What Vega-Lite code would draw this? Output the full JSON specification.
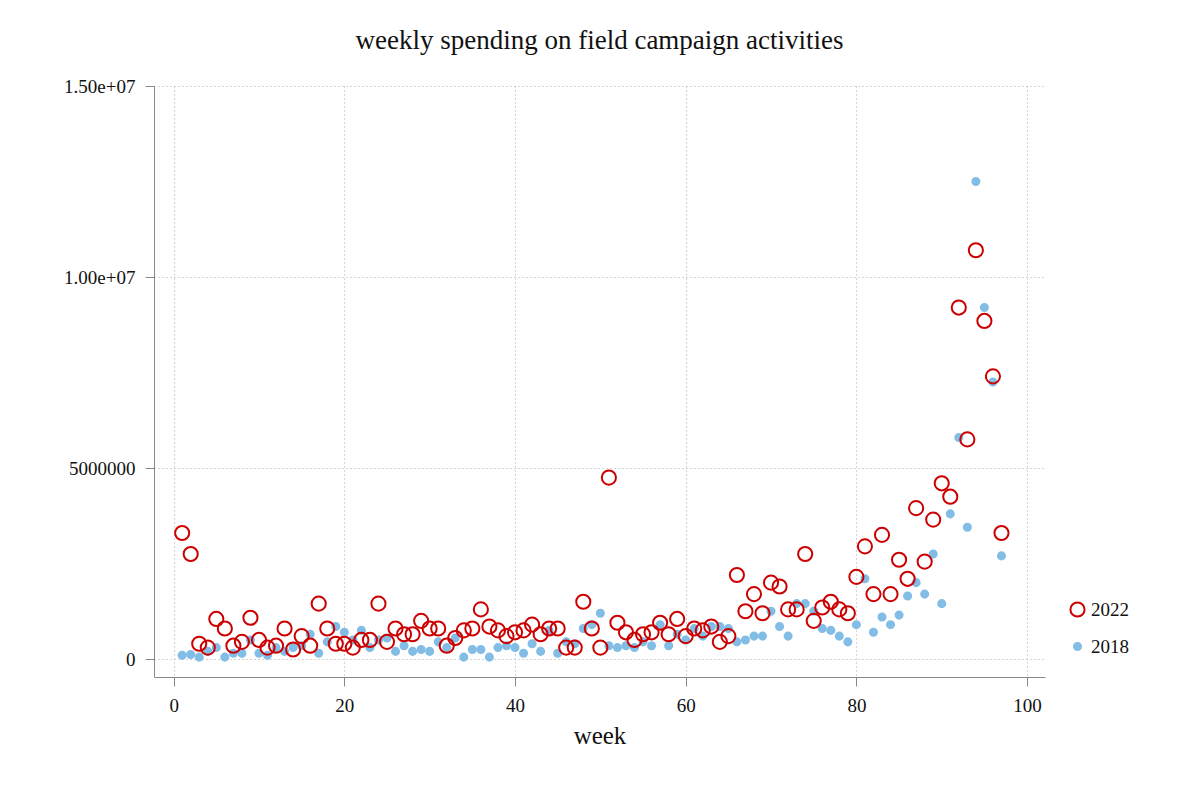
{
  "$schema": "https://vega.github.io/schema/vega-lite/v6.json",
  "autosize": "none",
  "width": 891,
  "height": 591,
  "padding": {"left": 154, "top": 86, "right": 155, "bottom": 123},
  "background": "white",
  "title": {"text": "weekly spending on field campaign activities", "font": "Liberation Serif", "fontSize": 27, "fontWeight": "normal", "color": "#111", "offset": 22},
  "data": {"values": [
    {"week":1,"y":0.1,"s":"2018"},{"week":2,"y":0.12,"s":"2018"},{"week":3,"y":0.05,"s":"2018"},{"week":4,"y":0.2,"s":"2018"},{"week":5,"y":0.3,"s":"2018"},{"week":6,"y":0.05,"s":"2018"},{"week":7,"y":0.15,"s":"2018"},{"week":8,"y":0.15,"s":"2018"},{"week":9,"y":0.5,"s":"2018"},{"week":10,"y":0.15,"s":"2018"},
    {"week":11,"y":0.1,"s":"2018"},{"week":12,"y":0.3,"s":"2018"},{"week":13,"y":0.2,"s":"2018"},{"week":14,"y":0.3,"s":"2018"},{"week":15,"y":0.35,"s":"2018"},{"week":16,"y":0.65,"s":"2018"},{"week":17,"y":0.15,"s":"2018"},{"week":18,"y":0.45,"s":"2018"},{"week":19,"y":0.85,"s":"2018"},{"week":20,"y":0.7,"s":"2018"},
    {"week":21,"y":0.5,"s":"2018"},{"week":22,"y":0.75,"s":"2018"},{"week":23,"y":0.3,"s":"2018"},{"week":24,"y":0.5,"s":"2018"},{"week":25,"y":0.55,"s":"2018"},{"week":26,"y":0.2,"s":"2018"},{"week":27,"y":0.35,"s":"2018"},{"week":28,"y":0.2,"s":"2018"},{"week":29,"y":0.25,"s":"2018"},{"week":30,"y":0.2,"s":"2018"},
    {"week":31,"y":0.45,"s":"2018"},{"week":32,"y":0.3,"s":"2018"},{"week":33,"y":0.55,"s":"2018"},{"week":34,"y":0.05,"s":"2018"},{"week":35,"y":0.25,"s":"2018"},{"week":36,"y":0.25,"s":"2018"},{"week":37,"y":0.05,"s":"2018"},{"week":38,"y":0.3,"s":"2018"},{"week":39,"y":0.35,"s":"2018"},{"week":40,"y":0.3,"s":"2018"},
    {"week":41,"y":0.15,"s":"2018"},{"week":42,"y":0.4,"s":"2018"},{"week":43,"y":0.2,"s":"2018"},{"week":44,"y":0.75,"s":"2018"},{"week":45,"y":0.15,"s":"2018"},{"week":46,"y":0.45,"s":"2018"},{"week":47,"y":0.4,"s":"2018"},{"week":48,"y":0.8,"s":"2018"},{"week":49,"y":0.9,"s":"2018"},{"week":50,"y":1.2,"s":"2018"},
    {"week":51,"y":0.35,"s":"2018"},{"week":52,"y":0.3,"s":"2018"},{"week":53,"y":0.35,"s":"2018"},{"week":54,"y":0.3,"s":"2018"},{"week":55,"y":0.45,"s":"2018"},{"week":56,"y":0.35,"s":"2018"},{"week":57,"y":0.9,"s":"2018"},{"week":58,"y":0.35,"s":"2018"},{"week":59,"y":0.65,"s":"2018"},{"week":60,"y":0.5,"s":"2018"},
    {"week":61,"y":0.8,"s":"2018"},{"week":62,"y":0.6,"s":"2018"},{"week":63,"y":0.85,"s":"2018"},{"week":64,"y":0.85,"s":"2018"},{"week":65,"y":0.8,"s":"2018"},{"week":66,"y":0.45,"s":"2018"},{"week":67,"y":0.5,"s":"2018"},{"week":68,"y":0.6,"s":"2018"},{"week":69,"y":0.6,"s":"2018"},{"week":70,"y":1.25,"s":"2018"},
    {"week":71,"y":0.85,"s":"2018"},{"week":72,"y":0.6,"s":"2018"},{"week":73,"y":1.45,"s":"2018"},{"week":74,"y":1.45,"s":"2018"},{"week":75,"y":1.25,"s":"2018"},{"week":76,"y":0.8,"s":"2018"},{"week":77,"y":0.75,"s":"2018"},{"week":78,"y":0.6,"s":"2018"},{"week":79,"y":0.45,"s":"2018"},{"week":80,"y":0.9,"s":"2018"},
    {"week":81,"y":2.1,"s":"2018"},{"week":82,"y":0.7,"s":"2018"},{"week":83,"y":1.1,"s":"2018"},{"week":84,"y":0.9,"s":"2018"},{"week":85,"y":1.15,"s":"2018"},{"week":86,"y":1.65,"s":"2018"},{"week":87,"y":2.0,"s":"2018"},{"week":88,"y":1.7,"s":"2018"},{"week":89,"y":2.75,"s":"2018"},{"week":90,"y":1.45,"s":"2018"},
    {"week":91,"y":3.8,"s":"2018"},{"week":92,"y":5.8,"s":"2018"},{"week":93,"y":3.45,"s":"2018"},{"week":94,"y":12.5,"s":"2018"},{"week":95,"y":9.2,"s":"2018"},{"week":96,"y":7.25,"s":"2018"},{"week":97,"y":2.7,"s":"2018"},
    {"week":1,"y":3.3,"s":"2022"},{"week":2,"y":2.75,"s":"2022"},{"week":3,"y":0.4,"s":"2022"},{"week":4,"y":0.3,"s":"2022"},{"week":5,"y":1.05,"s":"2022"},{"week":6,"y":0.8,"s":"2022"},{"week":7,"y":0.35,"s":"2022"},{"week":8,"y":0.45,"s":"2022"},{"week":9,"y":1.08,"s":"2022"},{"week":10,"y":0.5,"s":"2022"},
    {"week":11,"y":0.3,"s":"2022"},{"week":12,"y":0.35,"s":"2022"},{"week":13,"y":0.8,"s":"2022"},{"week":14,"y":0.25,"s":"2022"},{"week":15,"y":0.6,"s":"2022"},{"week":16,"y":0.35,"s":"2022"},{"week":17,"y":1.45,"s":"2022"},{"week":18,"y":0.8,"s":"2022"},{"week":19,"y":0.4,"s":"2022"},{"week":20,"y":0.4,"s":"2022"},
    {"week":21,"y":0.3,"s":"2022"},{"week":22,"y":0.5,"s":"2022"},{"week":23,"y":0.5,"s":"2022"},{"week":24,"y":1.45,"s":"2022"},{"week":25,"y":0.45,"s":"2022"},{"week":26,"y":0.8,"s":"2022"},{"week":27,"y":0.65,"s":"2022"},{"week":28,"y":0.65,"s":"2022"},{"week":29,"y":1.0,"s":"2022"},{"week":30,"y":0.8,"s":"2022"},
    {"week":31,"y":0.8,"s":"2022"},{"week":32,"y":0.35,"s":"2022"},{"week":33,"y":0.55,"s":"2022"},{"week":34,"y":0.75,"s":"2022"},{"week":35,"y":0.8,"s":"2022"},{"week":36,"y":1.3,"s":"2022"},{"week":37,"y":0.85,"s":"2022"},{"week":38,"y":0.75,"s":"2022"},{"week":39,"y":0.6,"s":"2022"},{"week":40,"y":0.7,"s":"2022"},
    {"week":41,"y":0.75,"s":"2022"},{"week":42,"y":0.9,"s":"2022"},{"week":43,"y":0.65,"s":"2022"},{"week":44,"y":0.8,"s":"2022"},{"week":45,"y":0.8,"s":"2022"},{"week":46,"y":0.3,"s":"2022"},{"week":47,"y":0.3,"s":"2022"},{"week":48,"y":1.5,"s":"2022"},{"week":49,"y":0.8,"s":"2022"},{"week":50,"y":0.3,"s":"2022"},
    {"week":51,"y":4.75,"s":"2022"},{"week":52,"y":0.95,"s":"2022"},{"week":53,"y":0.7,"s":"2022"},{"week":54,"y":0.5,"s":"2022"},{"week":55,"y":0.65,"s":"2022"},{"week":56,"y":0.7,"s":"2022"},{"week":57,"y":0.95,"s":"2022"},{"week":58,"y":0.65,"s":"2022"},{"week":59,"y":1.05,"s":"2022"},{"week":60,"y":0.6,"s":"2022"},
    {"week":61,"y":0.8,"s":"2022"},{"week":62,"y":0.75,"s":"2022"},{"week":63,"y":0.85,"s":"2022"},{"week":64,"y":0.45,"s":"2022"},{"week":65,"y":0.6,"s":"2022"},{"week":66,"y":2.2,"s":"2022"},{"week":67,"y":1.25,"s":"2022"},{"week":68,"y":1.7,"s":"2022"},{"week":69,"y":1.2,"s":"2022"},{"week":70,"y":2.0,"s":"2022"},
    {"week":71,"y":1.9,"s":"2022"},{"week":72,"y":1.3,"s":"2022"},{"week":73,"y":1.3,"s":"2022"},{"week":74,"y":2.75,"s":"2022"},{"week":75,"y":1.0,"s":"2022"},{"week":76,"y":1.35,"s":"2022"},{"week":77,"y":1.5,"s":"2022"},{"week":78,"y":1.3,"s":"2022"},{"week":79,"y":1.2,"s":"2022"},{"week":80,"y":2.15,"s":"2022"},
    {"week":81,"y":2.95,"s":"2022"},{"week":82,"y":1.7,"s":"2022"},{"week":83,"y":3.25,"s":"2022"},{"week":84,"y":1.7,"s":"2022"},{"week":85,"y":2.6,"s":"2022"},{"week":86,"y":2.1,"s":"2022"},{"week":87,"y":3.95,"s":"2022"},{"week":88,"y":2.55,"s":"2022"},{"week":89,"y":3.65,"s":"2022"},{"week":90,"y":4.6,"s":"2022"},
    {"week":91,"y":4.25,"s":"2022"},{"week":92,"y":9.2,"s":"2022"},{"week":93,"y":5.75,"s":"2022"},{"week":94,"y":10.7,"s":"2022"},{"week":95,"y":8.85,"s":"2022"},{"week":96,"y":7.4,"s":"2022"},{"week":97,"y":3.3,"s":"2022"}
  ]},
  "mark": {"type": "point", "strokeWidth": 2, "opacity": 1},
  "encoding": {
    "x": {"field": "week", "type": "quantitative", "title": "week",
      "scale": {"domain": [-2.3, 102.1], "nice": false, "zero": false},
      "axis": {"values": [0, 20, 40, 60, 80, 100], "gridDash": [1, 3], "gridColor": "#aaa", "domainColor": "#888", "tickColor": "#888", "tickSize": 9,
        "labelFont": "Liberation Serif", "labelFontSize": 19, "labelColor": "#111", "labelPadding": 10, "titleFont": "Liberation Serif", "titleFontSize": 25, "titleFontWeight": "normal", "titleColor": "#111", "titlePadding": 8}},
    "y": {"field": "y", "type": "quantitative", "title": null,
      "scale": {"domain": [-0.47, 15], "nice": false, "zero": false},
      "axis": {"values": [0, 5, 10, 15], "labelExpr": "datum.value == 0 ? '0' : datum.value == 5 ? '5000000' : datum.value == 10 ? '1.00e+07' : '1.50e+07'",
        "gridDash": [1, 3], "gridColor": "#aaa", "domainColor": "#888", "tickColor": "#888", "tickSize": 9,
        "labelFont": "Liberation Serif", "labelFontSize": 19, "labelColor": "#111", "labelPadding": 10}},
    "stroke": {"field": "s", "type": "nominal", "title": null, "scale": {"domain": ["2022", "2018"], "range": ["#cc0000", "#82bde6"]}},
    "fill": {"field": "s", "type": "nominal", "title": null, "scale": {"domain": ["2022", "2018"], "range": ["rgba(255,255,255,0)", "#82bde6"]}},
    "size": {"field": "s", "type": "nominal", "title": null, "scale": {"domain": ["2022", "2018"], "range": [200, 50]}},
    "order": {"field": "s", "sort": "ascending"}
  },
  "config": {
    "view": {"stroke": null},
    "legend": {"orient": "none", "legendX": 914, "legendY": 514, "labelFont": "Liberation Serif", "labelFontSize": 19, "labelColor": "#111", "rowPadding": 16, "symbolStrokeWidth": 2}
  }
}
